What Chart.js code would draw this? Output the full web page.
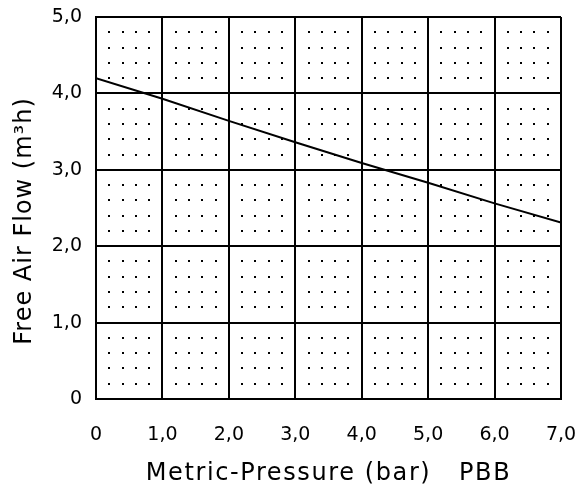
<!DOCTYPE html>
<html>
<head>
<meta charset="utf-8">
<script src="https://cdn.jsdelivr.net/npm/chart.js@4/dist/chart.umd.min.js"></script>
<style>
  html, body { margin: 0; padding: 0; background: #ffffff; }
  #wrap { width: 580px; height: 492px; }
</style>
</head>
<body>
<div id="wrap"><canvas id="c" width="580" height="492"></canvas></div>
<script>
// ---- data ----
const pressure = [0, 1, 2, 3, 4, 5, 6, 7];                       // bar
const airFlow  = [4.20, 3.93, 3.64, 3.36, 3.09, 2.83, 2.56, 2.31]; // m3/h
const xTickLabels = ['0', '1,0', '2,0', '3,0', '4,0', '5,0', '6,0', '7,0'];
const yTickLabels = ['0', '1,0', '2,0', '3,0', '4,0', '5,0'];
const xTitle = 'Metric-Pressure (bar)   PBB';
const yTitle = 'Free Air Flow (m\u00B3h)   ';

// dotted minor grid, drawn via the chart's scales
const dotGrid = {
  id: 'dotGrid',
  beforeDatasetsDraw(chart) {
    const {ctx, scales: {x, y}} = chart;
    const stepX = 0.2, stepY = 0.2;
    ctx.save();
    ctx.fillStyle = '#000';
    for (let i = 1; i < Math.round((x.max - x.min) / stepX); i++) {
      if (i % 5 === 0) continue;
      const px = Math.round(x.getPixelForValue(x.min + i * stepX));
      for (let j = 1; j < Math.round((y.max - y.min) / stepY); j++) {
        if (j % 5 === 0) continue;
        const py = Math.round(y.getPixelForValue(y.min + j * stepY));
        ctx.fillRect(px - 1, py - 1, 2, 2);
      }
    }
    ctx.restore();
  }
};

// wider letter spacing for the axis titles
const titleSpacing = {
  id: 'titleSpacing',
  beforeDraw(chart) {
    Object.values(chart.scales).forEach(s => {
      if (s._wrappedTitle) return;
      const orig = s.drawTitle;
      const sp = s.axis === 'x' ? '1.6px' : '1px';
      s.drawTitle = function() {
        const ctx = this.ctx;
        ctx.save();
        ctx.letterSpacing = sp;
        orig.apply(this, arguments);
        ctx.restore();
      };
      s._wrappedTitle = true;
    });
  }
};

function noPad(s) {
  s.paddingLeft = 0; s.paddingRight = 0; s.paddingTop = 0; s.paddingBottom = 0;
}

new Chart(document.getElementById('c'), {
  type: 'line',
  data: {
    datasets: [{
      data: pressure.map((p, i) => ({x: p, y: airFlow[i]})),
      borderColor: '#000',
      borderWidth: 2,
      pointRadius: 0,
      tension: 0,
      fill: false
    }]
  },
  options: {
    responsive: false,
    animation: false,
    layout: { padding: { left: 0, right: 19, top: 17, bottom: 0 } },
    plugins: { legend: { display: false }, tooltip: { enabled: false } },
    scales: {
      x: {
        type: 'linear',
        min: 0, max: 7,
        ticks: {
          stepSize: 1,
          maxRotation: 0,
          autoSkip: false,
          padding: 25,
          color: '#000',
          font: { family: 'DejaVu Sans', size: 19 },
          callback: (v, i) => xTickLabels[i]
        },
        grid: { color: '#000', lineWidth: 2, drawTicks: false },
        border: { color: '#000', width: 2 },
        title: {
          display: true,
          text: xTitle,
          color: '#000',
          font: { family: 'DejaVu Sans', size: 24 },
          padding: { top: 0, bottom: 4 }
        },
        afterFit(s) { s.height = 93; noPad(s); }
      },
      y: {
        type: 'linear',
        min: 0, max: 5,
        ticks: {
          stepSize: 1,
          padding: 14,
          color: '#000',
          font: { family: 'DejaVu Sans', size: 19 },
          callback: (v, i) => yTickLabels[i]
        },
        grid: { color: '#000', lineWidth: 2, drawTicks: false },
        border: { color: '#000', width: 2 },
        title: {
          display: true,
          text: yTitle,
          color: '#000',
          font: { family: 'DejaVu Sans', size: 24 },
          padding: { top: 10, bottom: 0 }
        },
        afterFit(s) { s.width = 96; noPad(s); }
      }
    }
  },
  plugins: [dotGrid, titleSpacing]
});
</script>
</body>
</html>
